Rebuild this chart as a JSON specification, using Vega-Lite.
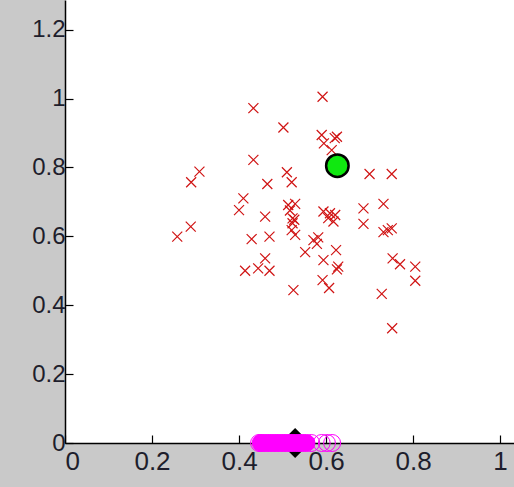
{
  "$schema": "https://vega.github.io/schema/vega-lite/v6.json",
  "width": 449,
  "height": 443,
  "autosize": {"type": "none"},
  "padding": {"left": 65, "top": 0, "right": 0, "bottom": 44},
  "background": "#c9c9c9",
  "config": {
    "view": {"fill": "white", "stroke": null},
    "axis": {
      "grid": false,
      "domainColor": "black",
      "domainWidth": 1.5,
      "tickColor": "black",
      "tickWidth": 1.2,
      "tickSize": -8,
      "labelFont": "Liberation Sans",
      "labelFontSize": 24,
      "labelColor": "#1e1e2c",
      "title": null,
      "format": "~g"
    }
  },
  "datasets": {
    "red": [
      {"x":0.592,"y":1.005},{"x":0.433,"y":0.972},{"x":0.502,"y":0.916},{"x":0.590,"y":0.894},
      {"x":0.625,"y":0.889},{"x":0.620,"y":0.885},{"x":0.595,"y":0.870},{"x":0.613,"y":0.850},
      {"x":0.433,"y":0.822},{"x":0.309,"y":0.788},{"x":0.290,"y":0.757},{"x":0.510,"y":0.786},
      {"x":0.521,"y":0.757},{"x":0.465,"y":0.752},{"x":0.700,"y":0.781},{"x":0.751,"y":0.781},
      {"x":0.410,"y":0.710},{"x":0.400,"y":0.676},{"x":0.513,"y":0.691},{"x":0.529,"y":0.694},
      {"x":0.517,"y":0.675},{"x":0.523,"y":0.652},{"x":0.527,"y":0.648},{"x":0.523,"y":0.638},
      {"x":0.521,"y":0.618},{"x":0.529,"y":0.604},{"x":0.460,"y":0.657},{"x":0.289,"y":0.628},
      {"x":0.258,"y":0.599},{"x":0.429,"y":0.592},{"x":0.470,"y":0.599},{"x":0.594,"y":0.672},
      {"x":0.609,"y":0.667},{"x":0.621,"y":0.662},{"x":0.605,"y":0.653},{"x":0.617,"y":0.643},
      {"x":0.686,"y":0.681},{"x":0.686,"y":0.636},{"x":0.732,"y":0.694},{"x":0.732,"y":0.612},
      {"x":0.742,"y":0.618},{"x":0.751,"y":0.623},{"x":0.571,"y":0.589},{"x":0.582,"y":0.597},
      {"x":0.579,"y":0.578},{"x":0.552,"y":0.554},{"x":0.623,"y":0.560},{"x":0.594,"y":0.531},
      {"x":0.628,"y":0.512},{"x":0.625,"y":0.504},{"x":0.414,"y":0.500},{"x":0.444,"y":0.507},
      {"x":0.460,"y":0.536},{"x":0.470,"y":0.500},{"x":0.525,"y":0.444},{"x":0.592,"y":0.473},
      {"x":0.607,"y":0.450},{"x":0.753,"y":0.536},{"x":0.770,"y":0.519},{"x":0.805,"y":0.512},
      {"x":0.805,"y":0.471},{"x":0.728,"y":0.433},{"x":0.752,"y":0.333}
    ],
    "magentaFilled": [
      {"x":0.450,"y":0},{"x":0.458,"y":0},{"x":0.466,"y":0},{"x":0.474,"y":0},{"x":0.482,"y":0},
      {"x":0.490,"y":0},{"x":0.498,"y":0},{"x":0.506,"y":0},{"x":0.514,"y":0},{"x":0.522,"y":0},
      {"x":0.530,"y":0},{"x":0.538,"y":0},{"x":0.546,"y":0},{"x":0.555,"y":0}
    ],
    "magentaOpen": [
      {"x":0.446,"y":0},{"x":0.566,"y":0},{"x":0.590,"y":0},{"x":0.602,"y":0},{"x":0.614,"y":0}
    ],
    "diamond": [{"x":0.529,"y":0}],
    "green": [{"x":0.626,"y":0.805}]
  },
  "layer": [
    {
      "data": {"name": "red"},
      "mark": {"type": "point", "shape": "M-1,-1L1,1M-1,1L1,-1", "filled": false, "stroke": "#d01414", "strokeWidth": 1.2, "size": 100, "opacity": 1},
      "encoding": {
        "x": {"field": "x", "type": "quantitative", "scale": {"domain": [0, 1.032], "nice": false, "zero": false}, "axis": {"values": [0, 0.2, 0.4, 0.6, 0.8, 1], "labelPadding": 13, "labelFontSize": 26, "orient": "bottom"}},
        "y": {"field": "y", "type": "quantitative", "scale": {"domain": [0, 1.286], "nice": false, "zero": false}, "axis": {"values": [0, 0.2, 0.4, 0.6, 0.8, 1, 1.2], "labelPadding": 8, "orient": "left"}}
      }
    },
    {
      "data": {"name": "diamond"},
      "mark": {"type": "point", "shape": "diamond", "filled": true, "color": "black", "size": 900, "opacity": 1},
      "encoding": {"x": {"field": "x", "type": "quantitative"}, "y": {"field": "y", "type": "quantitative"}}
    },
    {
      "data": {"name": "magentaFilled"},
      "mark": {"type": "point", "shape": "circle", "filled": true, "fill": "#ff00ff", "stroke": "#ff00ff", "strokeWidth": 1, "size": 289, "opacity": 1},
      "encoding": {"x": {"field": "x", "type": "quantitative"}, "y": {"field": "y", "type": "quantitative"}}
    },
    {
      "data": {"name": "magentaOpen"},
      "mark": {"type": "point", "shape": "circle", "filled": false, "stroke": "#ff00ff", "strokeWidth": 1, "size": 289, "opacity": 1},
      "encoding": {"x": {"field": "x", "type": "quantitative"}, "y": {"field": "y", "type": "quantitative"}}
    },
    {
      "data": {"name": "green"},
      "mark": {"type": "point", "shape": "circle", "filled": true, "fill": "#10e810", "stroke": "black", "strokeWidth": 2.5, "size": 506, "opacity": 1},
      "encoding": {"x": {"field": "x", "type": "quantitative"}, "y": {"field": "y", "type": "quantitative"}}
    }
  ]
}
